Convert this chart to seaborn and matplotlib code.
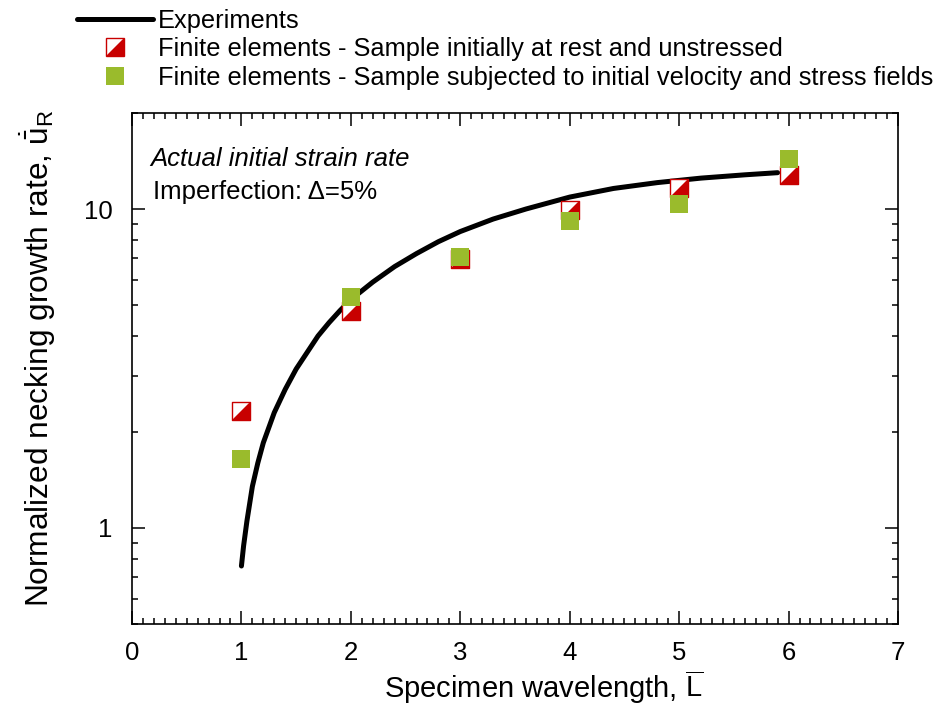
import matplotlib
matplotlib.use("Agg")
import matplotlib.pyplot as plt
import matplotlib.ticker as mticker
from matplotlib.lines import Line2D
import numpy as np
import pandas as pd
import seaborn as sns

exp_x = [1.0, 1.02, 1.05, 1.1, 1.15, 1.2, 1.3, 1.4, 1.5, 1.6, 1.7, 1.8, 1.9, 2.0,
         2.2, 2.4, 2.6, 2.8, 3.0, 3.3, 3.6, 4.0, 4.4, 4.8, 5.2, 5.6, 5.9]
exp_y = [0.76, 0.88, 1.05, 1.35, 1.6, 1.85, 2.3, 2.72, 3.15, 3.55, 4.0, 4.4, 4.8, 5.2,
         5.9, 6.6, 7.25, 7.9, 8.5, 9.3, 10.0, 10.9, 11.6, 12.1, 12.5, 12.8, 13.0]

# finite element results
wavelength = [1, 2, 3, 4, 5, 6]
fe_rest = [2.33, 4.8, 6.95, 9.9, 11.6, 12.8]
fe_init = [1.64, 5.3, 7.05, 9.2, 10.4, 14.4]

labels = [
    "Experiments",
    "Finite elements - Sample initially at rest and unstressed",
    "Finite elements - Sample subjected to initial velocity and stress fields",
]

red = "#C80000"
green = "#9ABB2C"

sns.set_style("ticks")
plt.rcParams["font.family"] = ["Liberation Sans", "DejaVu Sans"]
plt.rcParams["mathtext.fontset"] = "custom"
plt.rcParams["mathtext.rm"] = "Liberation Sans"
plt.rcParams["mathtext.it"] = "Liberation Sans:italic"
plt.rcParams["text.color"] = "black"
plt.rcParams["axes.labelcolor"] = "black"
plt.rcParams["axes.edgecolor"] = "black"
plt.rcParams["xtick.color"] = "black"
plt.rcParams["ytick.color"] = "black"

fig = plt.figure(figsize=(9.41, 7.13), dpi=100)
ax = fig.add_axes([132 / 941, 1 - 624 / 713, (898 - 132) / 941, (624 - 113) / 713])

df_exp = pd.DataFrame({"x": exp_x, "y": exp_y})
df_fe = pd.DataFrame({"x": wavelength, "rest": fe_rest, "init": fe_init})

sns.lineplot(data=df_exp, x="x", y="y", sort=False, color="black", lw=3.6, ax=ax)

tri = [(-1, -1), (1, -1), (1, 1)]
sq_size = 150
sns.scatterplot(data=df_fe, x="x", y="rest", marker="s", s=sq_size, color="white",
                edgecolor=red, linewidth=1.0, ax=ax, zorder=3)
sns.scatterplot(data=df_fe, x="x", y="rest", marker=tri, s=sq_size, color=red,
                linewidth=0, ax=ax, zorder=3)
sns.scatterplot(data=df_fe, x="x", y="init", marker="s", s=sq_size, color=green,
                linewidth=0, ax=ax, zorder=4)

ax.set_yscale("log")
ax.set_xlim(0, 7)
ax.set_ylim(0.5, 20)
ax.xaxis.set_major_locator(mticker.MultipleLocator(1))
ax.xaxis.set_minor_locator(mticker.MultipleLocator(0.1))
ax.yaxis.set_major_locator(mticker.LogLocator(base=10))
ax.yaxis.set_minor_locator(mticker.LogLocator(base=10, subs=np.arange(2, 10)))
ax.yaxis.set_major_formatter(mticker.FuncFormatter(lambda v, p: "%g" % v))
ax.yaxis.set_minor_formatter(mticker.NullFormatter())

ax.tick_params(which="both", direction="in", top=True, right=True, width=1.1)
ax.tick_params(which="major", length=9.5, labelsize=18.5)
ax.tick_params(which="minor", length=4.5)
ax.tick_params(axis="y", which="major", pad=14)
ax.tick_params(axis="x", which="major", pad=12)
for s in ax.spines.values():
    s.set_linewidth(1.2)

ax.set_xlabel(r"Specimen wavelength, $\overline{\mathrm{L}}$", fontsize=21)
ax.set_ylabel(r"Normalized necking growth rate, $\dot{\bar{\mathrm{u}}}_\mathrm{R}$",
              fontsize=22.8)
ax.xaxis.set_label_coords(0.537, -0.125)
ax.yaxis.set_label_coords(-0.123, 0.52)
ax.xaxis.label.set_va("center")
ax.yaxis.label.set_va("center")

ax.text(0.024, 0.91, "Actual initial strain rate", style="italic", fontsize=18.5,
        transform=ax.transAxes, va="center")
ax.text(0.027, 0.845, "Imperfection: \u0394=5%", fontsize=18.5,
        transform=ax.transAxes, va="center")

h_exp = Line2D([], [], color="black", lw=3.6)
h_rest_sq = Line2D([], [], ls="none", marker="s", ms=12.5, mfc="white", mec=red, mew=1.0)
h_rest_tri = Line2D([], [], ls="none", marker=tri, ms=12.5, mfc=red, mec=red, mew=0)
h_init = Line2D([], [], ls="none", marker="s", ms=12.5, mfc=green, mec=green, mew=0)
fig.legend([h_exp, (h_rest_sq, h_rest_tri), h_init], labels,
           loc="upper left", bbox_to_anchor=(77 / 941, 1 - 9 / 713),
           frameon=False, fontsize=18.3, handlelength=3.0, handletextpad=0.2,
           labelspacing=0.17, borderpad=0, borderaxespad=0)

fig.savefig("out.png", dpi=100)
